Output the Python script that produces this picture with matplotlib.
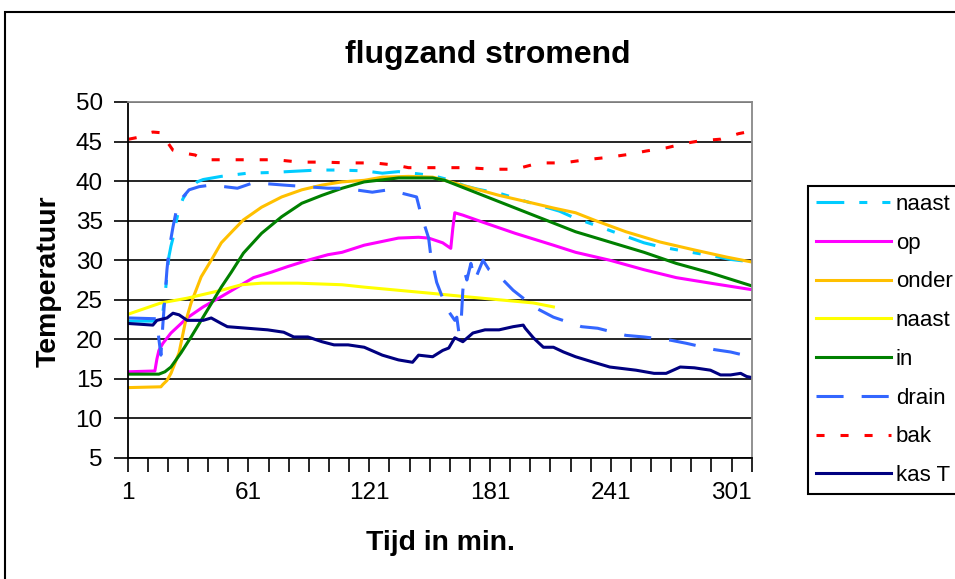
import matplotlib
matplotlib.use('Agg')
import matplotlib.pyplot as plt
from matplotlib.patches import Rectangle

plt.rcParams['font.family'] = ['Liberation Sans', 'DejaVu Sans']
plt.rcParams['lines.scale_dashes'] = False

# readings per series: minute index, temperature
naast1_t = [1, 17, 18, 19, 20, 21, 22, 23, 24, 26, 28, 31, 35, 38, 47, 60, 73, 80, 95, 105,
            118, 127, 135, 142, 152, 158, 163, 168, 174, 186, 200, 211, 215, 222, 233, 245,
            257, 265, 278, 290, 300, 310]
naast1_v = [22.3, 22.3, 23.5, 25.5, 28.0, 30.5, 31.8, 32.8, 34.2, 36.5, 37.8, 39.0, 39.9, 40.2,
            40.6, 41.0, 41.1, 41.2, 41.4, 41.4, 41.3, 41.0, 41.2, 41.0, 40.7, 40.3, 39.9, 39.4,
            39.0, 38.4, 37.3, 36.5, 36.2, 35.4, 34.4, 33.3, 32.2, 31.7, 31.1, 30.6, 30.1, 29.8]

op_t = [1, 14, 15, 16, 18, 22, 30, 38, 47, 55, 63, 72, 80, 90, 100, 107, 118, 135, 145, 150,
        157, 161, 162, 163, 167, 177, 193, 212, 223, 240, 257, 273, 290, 305, 310]
op_v = [15.9, 16.0, 17.5, 18.6, 19.5, 20.8, 22.7, 24.1, 25.4, 26.6, 27.8, 28.5, 29.2, 30.0,
        30.7, 31.0, 31.9, 32.8, 32.9, 32.8, 32.2, 31.5, 34.0, 36.0, 35.7, 34.8, 33.4, 31.9,
        31.0, 30.0, 28.8, 27.8, 27.1, 26.5, 26.3]

onder_t = [1, 17, 18, 20, 22, 24, 26, 29, 32, 37, 42, 47, 53, 58, 67, 77, 87, 97, 107, 118,
           127, 140, 152, 158, 165, 172, 185, 202, 212, 223, 233, 248, 265, 282, 298, 310]
onder_v = [13.9, 14.0, 14.3, 14.8, 15.7, 17.0, 18.3, 22.0, 24.6, 27.9, 30.0, 32.2, 33.8, 35.1,
           36.7, 38.0, 38.9, 39.5, 39.9, 40.1, 40.5, 40.6, 40.5, 40.1, 39.6, 39.1, 38.2, 37.2,
           36.6, 36.0, 35.0, 33.6, 32.3, 31.3, 30.4, 29.8]

naast2_t = [1, 17, 30, 47, 57, 67, 85, 107, 118, 135, 152, 168, 185, 202, 212]
naast2_v = [23.2, 24.6, 25.2, 26.2, 26.9, 27.1, 27.1, 26.9, 26.6, 26.2, 25.8, 25.4, 25.0, 24.6, 24.1]

in_t = [1, 16, 19, 22, 27, 32, 37, 42, 47, 52, 58, 67, 77, 87, 97, 107, 118, 135, 152, 158,
        168, 185, 202, 212, 223, 240, 257, 273, 290, 305, 310]
in_v = [15.6, 15.6, 15.9, 16.5, 18.3, 20.3, 22.4, 24.5, 26.6, 28.5, 30.9, 33.4, 35.5, 37.2,
        38.2, 39.1, 39.9, 40.4, 40.4, 40.1, 39.1, 37.4, 35.7, 34.7, 33.6, 32.3, 31.0, 29.6,
        28.4, 27.2, 26.8]

drain_t = [1, 15, 16, 17, 18, 19, 20, 21, 23, 25, 28, 31, 36, 42, 55, 63, 78, 100, 108, 122,
           130, 144, 146, 150, 151, 154, 157, 160, 163, 164, 165, 166, 167, 168, 169, 171, 173,
           177, 180, 187, 192, 203, 212, 226, 234, 248, 257, 270, 278, 292, 300, 310]
drain_v = [22.7, 22.6, 20.0, 18.0, 22.0, 25.4, 28.8, 31.3, 34.2, 36.7, 38.0, 38.9, 39.3, 39.5,
           39.1, 39.8, 39.5, 39.1, 39.1, 38.6, 38.9, 38.0, 36.0, 32.8, 30.7, 27.2, 25.2, 23.5,
           22.4, 22.8, 20.9, 21.5, 26.2, 28.4, 27.5, 29.6, 27.5, 30.0, 28.8, 27.5, 26.2, 24.0,
           22.8, 21.6, 21.4, 20.5, 20.3, 19.9, 19.5, 18.7, 18.4, 17.8]

bak_t = [1, 5, 8, 13, 18, 20, 23, 27, 34, 38, 47, 62, 74, 86, 98, 110, 123, 134, 140, 147,
         157, 169, 182, 193, 205, 217, 228, 239, 250, 258, 268, 278, 285, 295, 304, 310]
bak_v = [45.3, 45.5, 45.9, 46.2, 46.1, 45.0, 43.9, 43.6, 43.3, 42.7, 42.7, 42.7, 42.7, 42.4,
         42.4, 42.3, 42.3, 42.0, 41.7, 41.7, 41.7, 41.7, 41.5, 41.5, 42.3, 42.3, 42.7, 43.0,
         43.4, 43.8, 44.2, 44.8, 45.1, 45.3, 46.0, 46.3]

kas_t = [1, 13, 15, 20, 23, 26, 30, 38, 42, 47, 50, 60, 70, 78, 83, 90, 97, 103, 110, 118,
         127, 135, 142, 145, 152, 157, 160, 163, 167, 172, 178, 185, 192, 197, 198, 202, 207,
         212, 217, 223, 232, 240, 253, 262, 268, 275, 282, 290, 295, 300, 305, 308, 310]
kas_v = [22.0, 21.8, 22.4, 22.7, 23.3, 23.1, 22.4, 22.4, 22.7, 22.0, 21.6, 21.4, 21.2, 20.9,
         20.3, 20.3, 19.7, 19.3, 19.3, 19.0, 18.0, 17.4, 17.1, 18.0, 17.8, 18.6, 18.9, 20.2,
         19.7, 20.8, 21.2, 21.2, 21.6, 21.8, 21.4, 20.2, 19.0, 19.0, 18.4, 17.8, 17.1, 16.5,
         16.1, 15.7, 15.7, 16.5, 16.4, 16.1, 15.5, 15.5, 15.7, 15.3, 15.2]

n_minutes = 310
xtick_labels = ['1', '61', '121', '181', '241', '301']

fig = plt.figure(figsize=(9.55, 5.79), dpi=100)
W, H = 955.0, 579.0
ax = fig.add_axes([127.7 / W, 1 - 458 / H, (751.7 - 127.7) / W, (458 - 102) / H])

lw = 2.2
ax.plot(naast1_t, naast1_v, color='#00CCFF', lw=lw, dashes=(20, 10.8, 5.8, 10.8, 5.8, 10.8), label='naast')
ax.plot(op_t, op_v, color='#FF00FF', lw=lw, label='op')
ax.plot(onder_t, onder_v, color='#FFC000', lw=lw, label='onder')
ax.plot(naast2_t, naast2_v, color='#FFFF00', lw=lw, label='naast')
ax.plot(in_t, in_v, color='#008000', lw=lw, label='in')
ax.plot(drain_t, drain_v, color='#3366FF', lw=lw, dashes=(19.5, 13), label='drain')
ax.plot(bak_t, bak_v, color='#FF0000', lw=lw, dashes=(5.8, 11.5), label='bak')
ax.plot(kas_t, kas_v, color='#000080', lw=lw, label='kas T')

ax.set_xlim(0.5, n_minutes + 0.5)
ax.set_ylim(5, 50)
ax.set_yticks(range(5, 55, 5))
ax.set_xticks([0.5 + 60 * i for i in range(len(xtick_labels))])
ax.set_xticklabels(xtick_labels)
ax.set_xticks([0.5 + 10 * i for i in range(n_minutes // 10 + 1)], minor=True)

ax.tick_params(axis='both', which='both', direction='out', length=10, width=1.2, colors='black')
ax.tick_params(axis='y', labelsize=17.5, pad=8)
ax.tick_params(axis='x', labelsize=17.5, pad=7.5)

ax.set_axisbelow(True)
ax.yaxis.grid(True, color='black', lw=1.2)
for side in ['left', 'bottom']:
    ax.spines[side].set_color('black')
    ax.spines[side].set_linewidth(1.3)
for side in ['top', 'right']:
    ax.spines[side].set_color('#888888')
    ax.spines[side].set_linewidth(1.3)

fig.text(487.5 / W, 1 - 55 / H, 'flugzand stromend', ha='center', va='center', fontsize=23, fontweight='bold')
fig.text(440 / W, 1 - 543 / H, 'Tijd in min.', ha='center', va='center', fontsize=20.4, fontweight='bold')
fig.text(49 / W, 1 - 281 / H, 'Temperatuur', ha='center', va='center', rotation=90, fontsize=20.4, fontweight='bold')

leg = ax.legend(loc='upper left', bbox_to_anchor=(808 / W, 1 - 186 / H), bbox_transform=fig.transFigure,
                fontsize=16, handlelength=3.4, handletextpad=0.2, labelspacing=0.80, borderpad=0.35,
                borderaxespad=0, fancybox=False, framealpha=1, edgecolor='black')
leg.get_frame().set_linewidth(1.5)

# outer chart border (right and bottom edges fall outside the picture)
fig.add_artist(Rectangle((5 / W, -0.1), 1.0, 1.1 - 12 / H, transform=fig.transFigure,
                         fill=False, edgecolor='black', lw=1.5))

fig.savefig('out.png', dpi=100)
